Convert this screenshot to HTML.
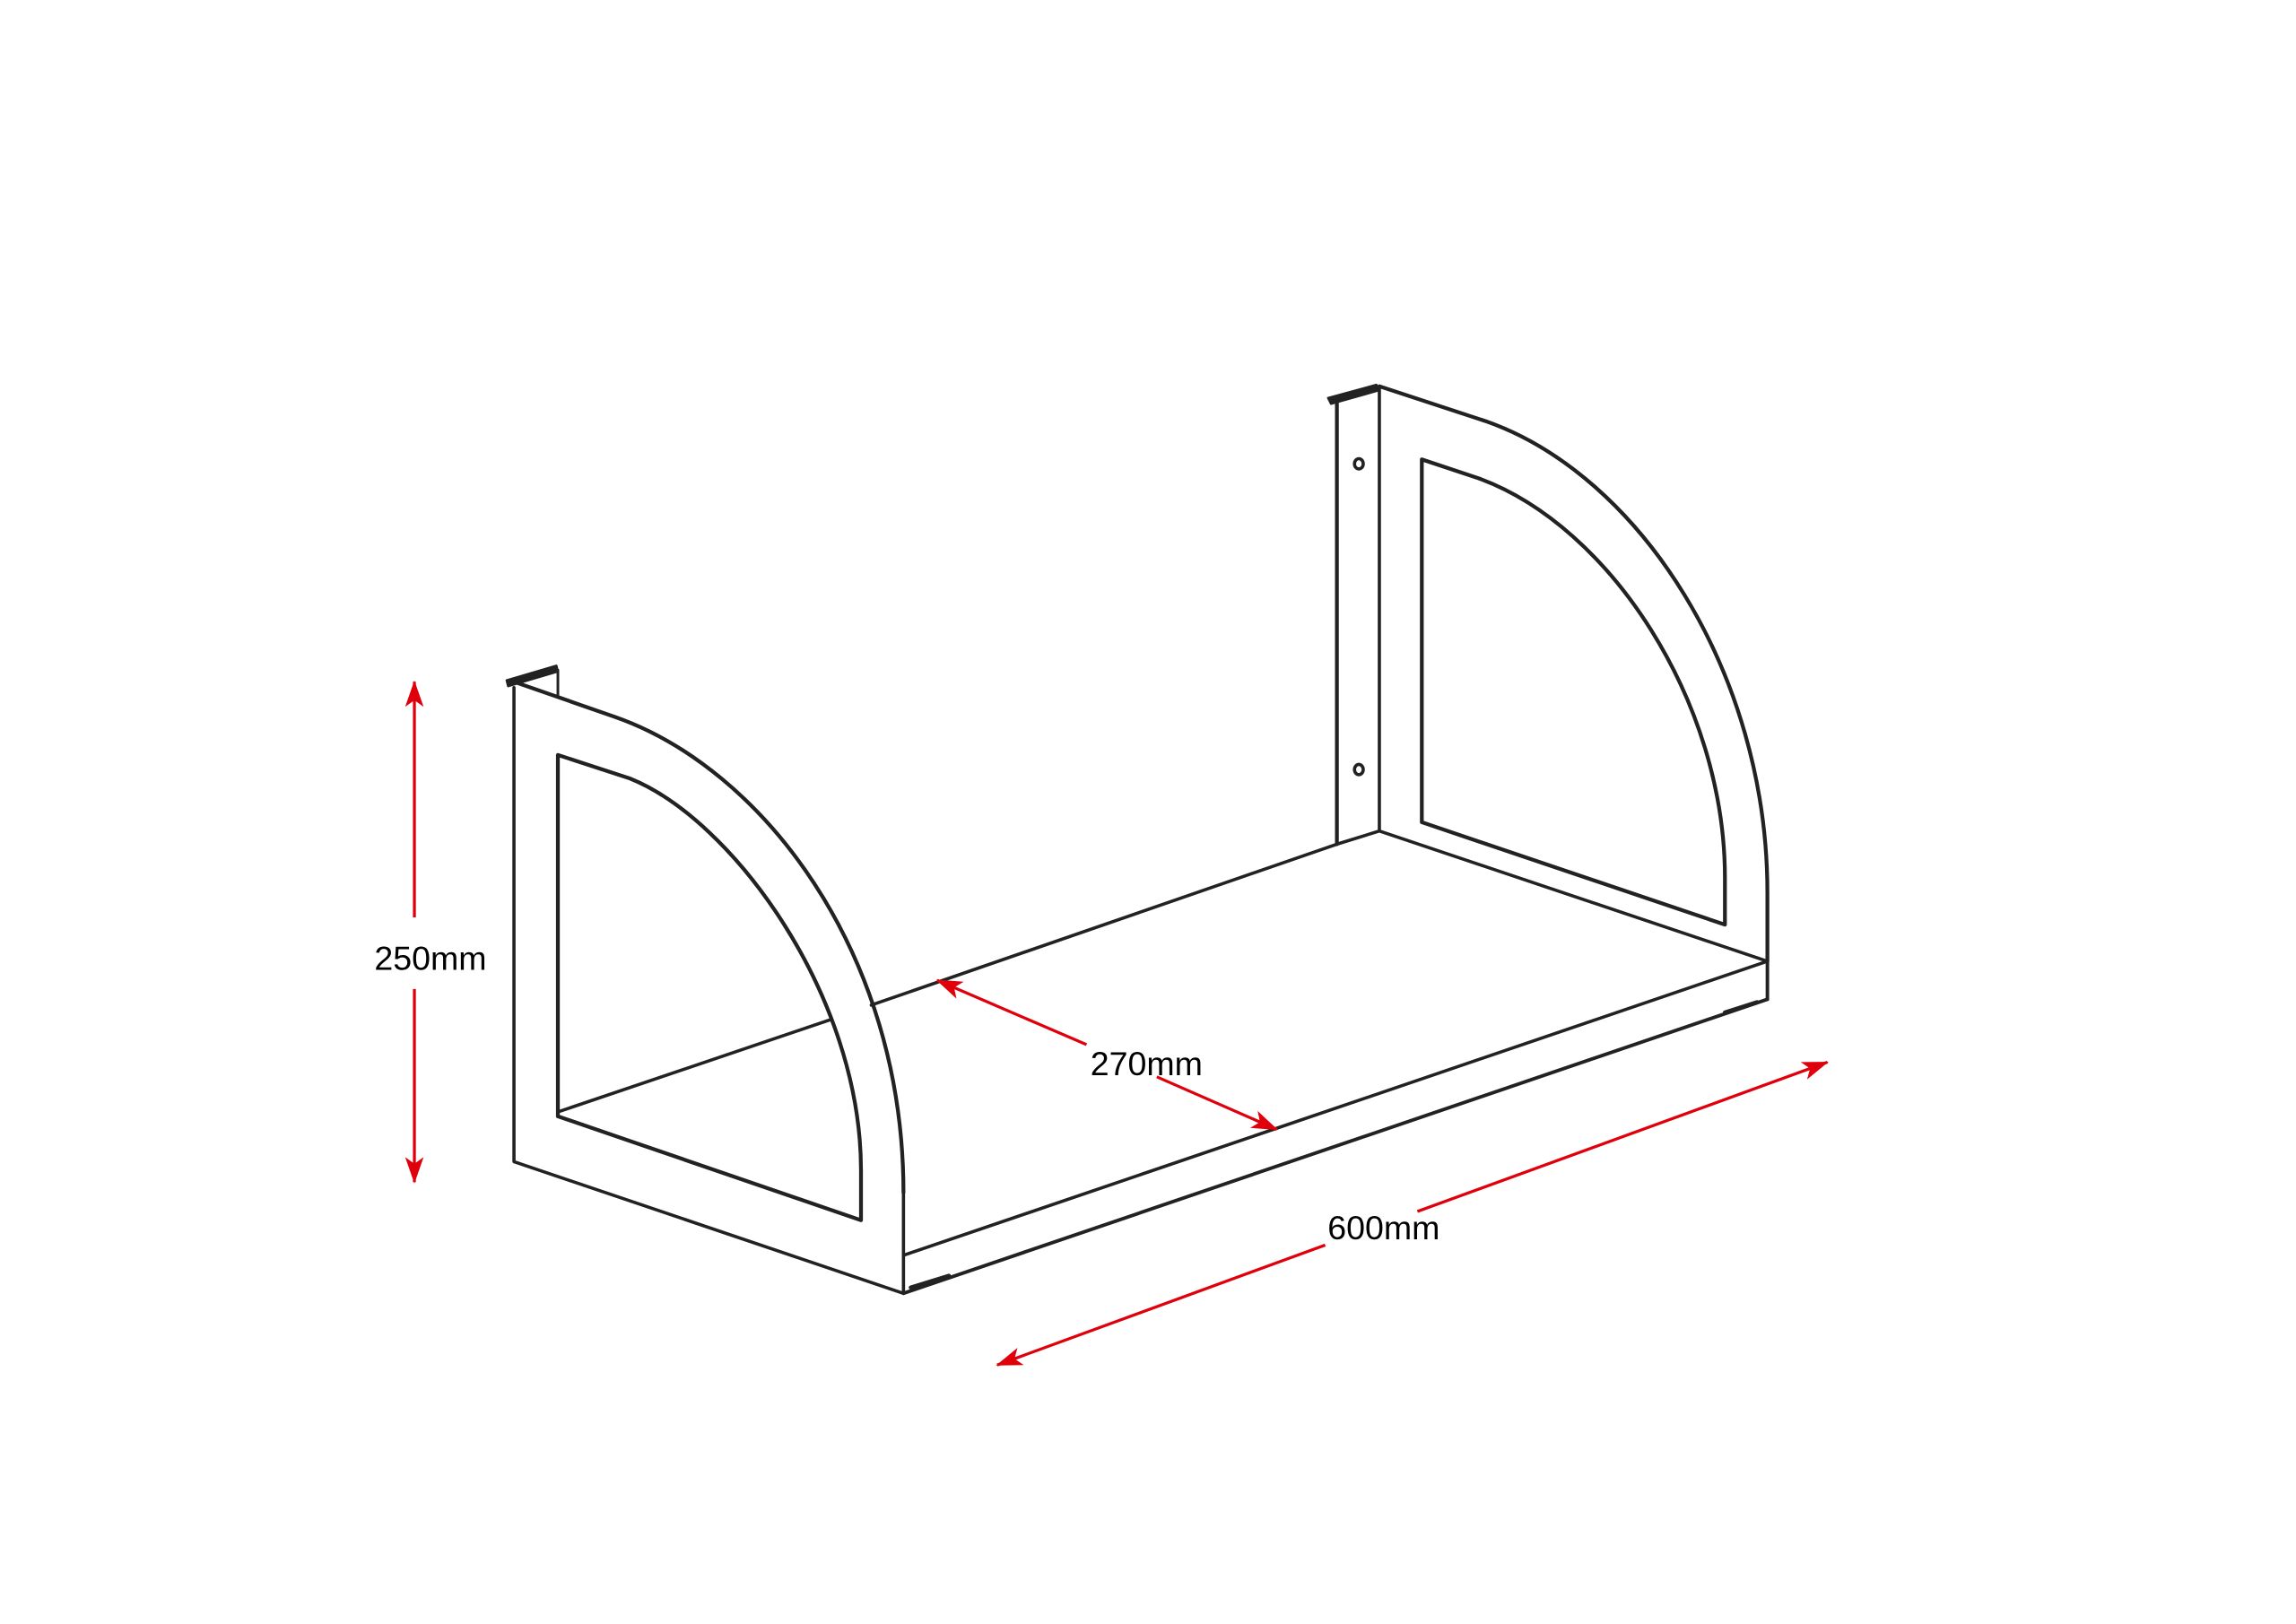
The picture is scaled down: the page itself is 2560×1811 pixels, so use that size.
<!DOCTYPE html>
<html><head><meta charset="utf-8"><style>
html,body{margin:0;padding:0;background:#fff;}
svg{display:block;}
text{font-family:"Liberation Sans",sans-serif;font-size:23px;fill:#000;}
</style></head><body>
<svg width="2560" height="1811" viewBox="0 0 1568 1110" preserveAspectRatio="none" xmlns="http://www.w3.org/2000/svg">
<defs>
<marker id="ah" viewBox="0 0 20 14" refX="19" refY="7" markerWidth="18" markerHeight="13" markerUnits="userSpaceOnUse" orient="auto">
<path d="M0,0 L20,7 L0,14 L5,7 Z" fill="#e0000b"/>
</marker>
</defs>
<g fill="none" stroke="#222" stroke-linejoin="round" stroke-linecap="round">
<!-- left bracket -->
<path d="M346,465 L380,455 L381,459 L347,469 Z" fill="#222" stroke-width="1.5"/>
<line x1="381" y1="458" x2="381" y2="476" stroke-width="1.8"/>
<path d="M351,470 L351,794 L617,884 L617,815" stroke-width="2.2"/>
<path d="M351,466 L420,490 C520,525 617,650 617,815" stroke-width="2.6"/>
<path d="M381,516 L381,763 L588,834 L588,800 C588,680 500,560 430,532 Z" stroke-width="2.6"/>
<line x1="381" y1="760" x2="567" y2="697" stroke-width="2.2"/>
<line x1="595" y1="687" x2="913" y2="577" stroke-width="2.2"/>
<!-- shelf -->
<line x1="617" y1="858" x2="1207" y2="657" stroke-width="2.2"/>
<line x1="617" y1="884" x2="1207" y2="683" stroke-width="2.4"/>
<line x1="1207" y1="657" x2="1207" y2="683" stroke-width="2.4"/>
<line x1="622" y1="880" x2="648" y2="872" stroke-width="2.8"/>
<line x1="1178" y1="692" x2="1200" y2="685" stroke-width="2.8"/>
<!-- right bracket -->
<path d="M907,272 L940,263 L941,267 L909,276 Z" fill="#222" stroke-width="1.5"/>
<line x1="913" y1="274" x2="913" y2="577" stroke-width="2.6"/>
<line x1="942" y1="264" x2="942" y2="568" stroke-width="2.2"/>
<ellipse cx="928" cy="317" rx="3" ry="3.5" stroke-width="2.2"/>
<ellipse cx="928" cy="526" rx="3" ry="3.5" stroke-width="2.2"/>
<path d="M942,264 L1015,288 C1120,325 1207,460 1207,610 L1207,657" stroke-width="2.6"/>
<path d="M913,577 L942,568 L1207,657" stroke-width="2.2"/>
<path d="M971,314 L971,562 L1178,632 L1178,600 C1178,480 1100,360 1010,327 Z" stroke-width="2.6"/>
</g>
<g stroke="#e0000b" stroke-width="2" fill="none">
<line x1="283" y1="627" x2="283" y2="466" marker-end="url(#ah)"/>
<line x1="283" y1="676" x2="283" y2="808" marker-end="url(#ah)"/>
<line x1="742" y1="714" x2="640" y2="670" marker-end="url(#ah)"/>
<line x1="790" y1="736" x2="872" y2="772" marker-end="url(#ah)"/>
<line x1="905" y1="851" x2="681" y2="933" marker-end="url(#ah)"/>
<line x1="968" y1="828" x2="1248" y2="726" marker-end="url(#ah)"/>
</g>
<text x="294" y="663" text-anchor="middle">250mm</text>
<text x="783" y="735" text-anchor="middle">270mm</text>
<text x="945" y="847" text-anchor="middle">600mm</text>
</svg>
</body></html>
